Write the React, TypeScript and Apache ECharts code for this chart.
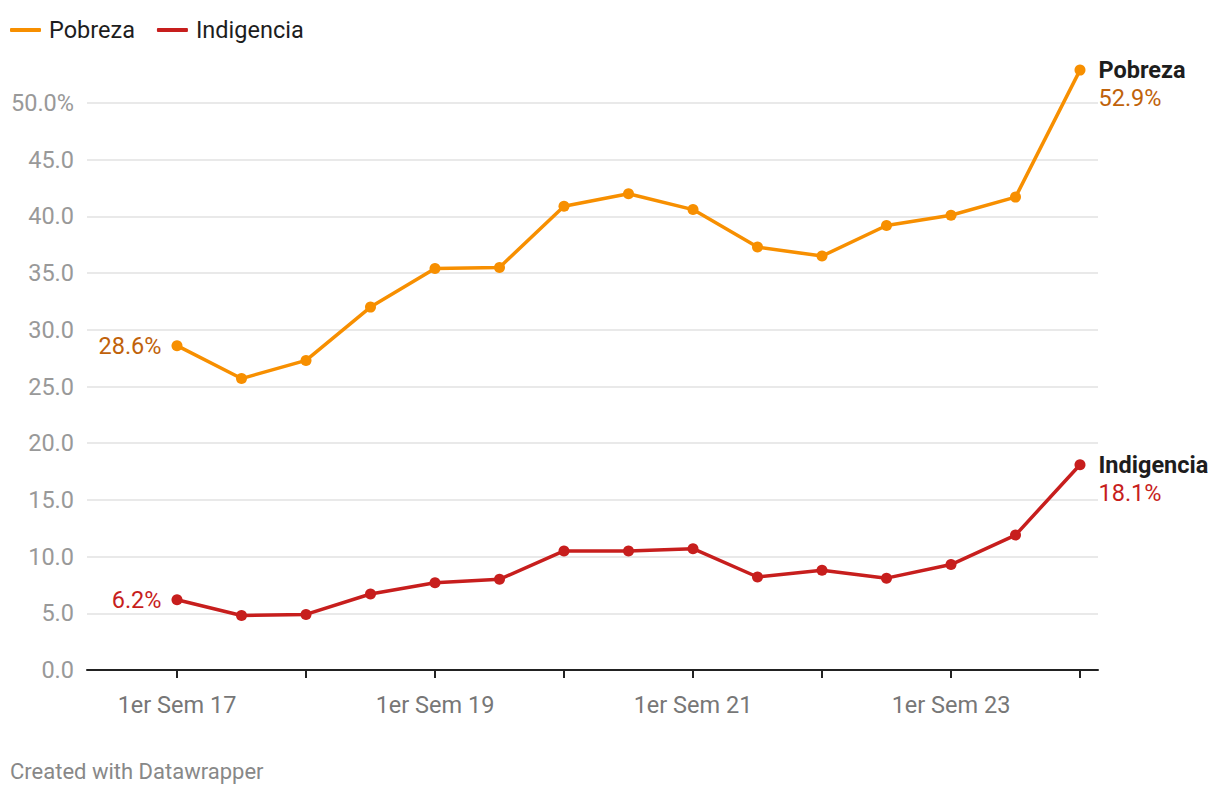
import React, { useEffect, useRef } from "react";
import * as echarts from "echarts";

const categories = [
  "1er Sem 17", "2do Sem 17", "1er Sem 18", "2do Sem 18", "1er Sem 19",
  "2do Sem 19", "1er Sem 20", "2do Sem 20", "1er Sem 21", "2do Sem 21",
  "1er Sem 22", "2do Sem 22", "1er Sem 23", "2do Sem 23", "1er Sem 24",
];
const pobreza = [28.6, 25.7, 27.3, 32.0, 35.4, 35.5, 40.9, 42.0, 40.6, 37.3, 36.5, 39.2, 40.1, 41.7, 52.9];
const indigencia = [6.2, 4.8, 4.9, 6.7, 7.7, 8.0, 10.5, 10.5, 10.7, 8.2, 8.8, 8.1, 9.3, 11.9, 18.1];
const yMin = 0;
const yMax = 50;
const yStep = 5;

const FONT = "Roboto, 'Noto Sans', sans-serif";
const FS = 23.5;
const ORANGE = "#f78f00";
const ORANGE_TEXT = "#c0620a";
const RED = "#c71e1d";

function seriesData(values: number[], name: string, textColor: string) {
  const last = values.length - 1;
  return values.map((v, i) => {
    if (i === 0) {
      return {
        value: v,
        label: {
          show: true,
          position: "left",
          distance: 10,
          formatter: v.toFixed(1) + "%",
          color: textColor,
          fontSize: FS,
          fontFamily: FONT,
        },
      };
    }
    if (i === last) {
      return {
        value: v,
        label: {
          show: true,
          position: "right",
          distance: 13,
          offset: [0, 14],
          formatter: "{n|" + name + "}\n{v|" + v.toFixed(1) + "%}",
          rich: {
            n: { fontSize: FS, fontWeight: "bold", color: "#1d1d1d", fontFamily: FONT, lineHeight: 28 },
            v: { fontSize: FS, color: textColor, fontFamily: FONT, lineHeight: 28 },
          },
        },
      };
    }
    return v;
  });
}

export default function App() {
  const ref = useRef<HTMLDivElement>(null);
  useEffect(() => {
    if (!ref.current) return;
    const chart = echarts.init(ref.current, null, { renderer: "svg" });
    const option: any = {
      animation: false,
      backgroundColor: "#ffffff",
      textStyle: { fontFamily: FONT },
      legend: {
        left: 5,
        top: 13,
        itemWidth: 31,
        itemHeight: 4,
        itemGap: 22,
        icon: "roundRect",
        textStyle: { fontSize: FS, color: "#1d1d1d", fontFamily: FONT, padding: [0, 0, 0, 3] },
        data: ["Pobreza", "Indigencia"],
      },
      grid: [
        { left: 87, right: 122, top: 103, bottom: 126 },
        { left: 177, right: 140, top: 103, bottom: 126 },
      ],
      xAxis: [
        {
          type: "value",
          gridIndex: 0,
          min: 0,
          max: 1,
          axisLine: { show: true, lineStyle: { color: "#222", width: 2 } },
          axisTick: { show: false },
          axisLabel: { show: false },
          splitLine: { show: false },
        },
        {
          type: "category",
          gridIndex: 1,
          data: categories,
          boundaryGap: false,
          axisLine: { show: false },
          axisTick: { show: true, interval: 1, length: 8, lineStyle: { color: "#222", width: 2 } },
          axisLabel: { interval: 3, color: "#777", fontSize: FS, fontFamily: FONT, margin: 23 },
          splitLine: { show: false },
        },
      ],
      yAxis: [
        {
          type: "value",
          gridIndex: 0,
          min: yMin,
          max: yMax,
          interval: yStep,
          axisLine: { show: false },
          axisTick: { show: false },
          axisLabel: {
            color: "#999",
            fontSize: FS,
            fontFamily: FONT,
            margin: 13,
            formatter: (v: number) => (v === yMax ? v.toFixed(1) + "%" : v.toFixed(1)),
          },
          splitLine: { lineStyle: { color: "#e2e2e2", width: 1.5 } },
        },
        {
          type: "value",
          gridIndex: 1,
          min: yMin,
          max: yMax,
          interval: yStep,
          show: false,
          splitLine: { show: false },
        },
      ],
      series: [
        {
          name: "Pobreza",
          type: "line",
          xAxisIndex: 1,
          yAxisIndex: 1,
          data: seriesData(pobreza, "Pobreza", ORANGE_TEXT),
          color: ORANGE,
          clip: false,
          symbol: "circle",
          symbolSize: 11,
          lineStyle: { width: 3.5, color: ORANGE },
          itemStyle: { color: ORANGE },
          z: 3,
        },
        {
          name: "Indigencia",
          type: "line",
          xAxisIndex: 1,
          yAxisIndex: 1,
          data: seriesData(indigencia, "Indigencia", RED),
          color: RED,
          clip: false,
          symbol: "circle",
          symbolSize: 11,
          lineStyle: { width: 3.5, color: RED },
          itemStyle: { color: RED },
          z: 3,
        },
      ],
      graphic: [
        {
          type: "text",
          left: 10,
          top: 760,
          style: { text: "Created with Datawrapper", fontSize: 22, fill: "#888", fontFamily: FONT },
        },
      ],
    };
    chart.setOption(option);
    return () => chart.dispose();
  }, []);
  return (
    <div
      ref={ref}
      style={{ position: "fixed", left: 0, top: 0, width: 1220, height: 796, background: "#fff" }}
    />
  );
}
